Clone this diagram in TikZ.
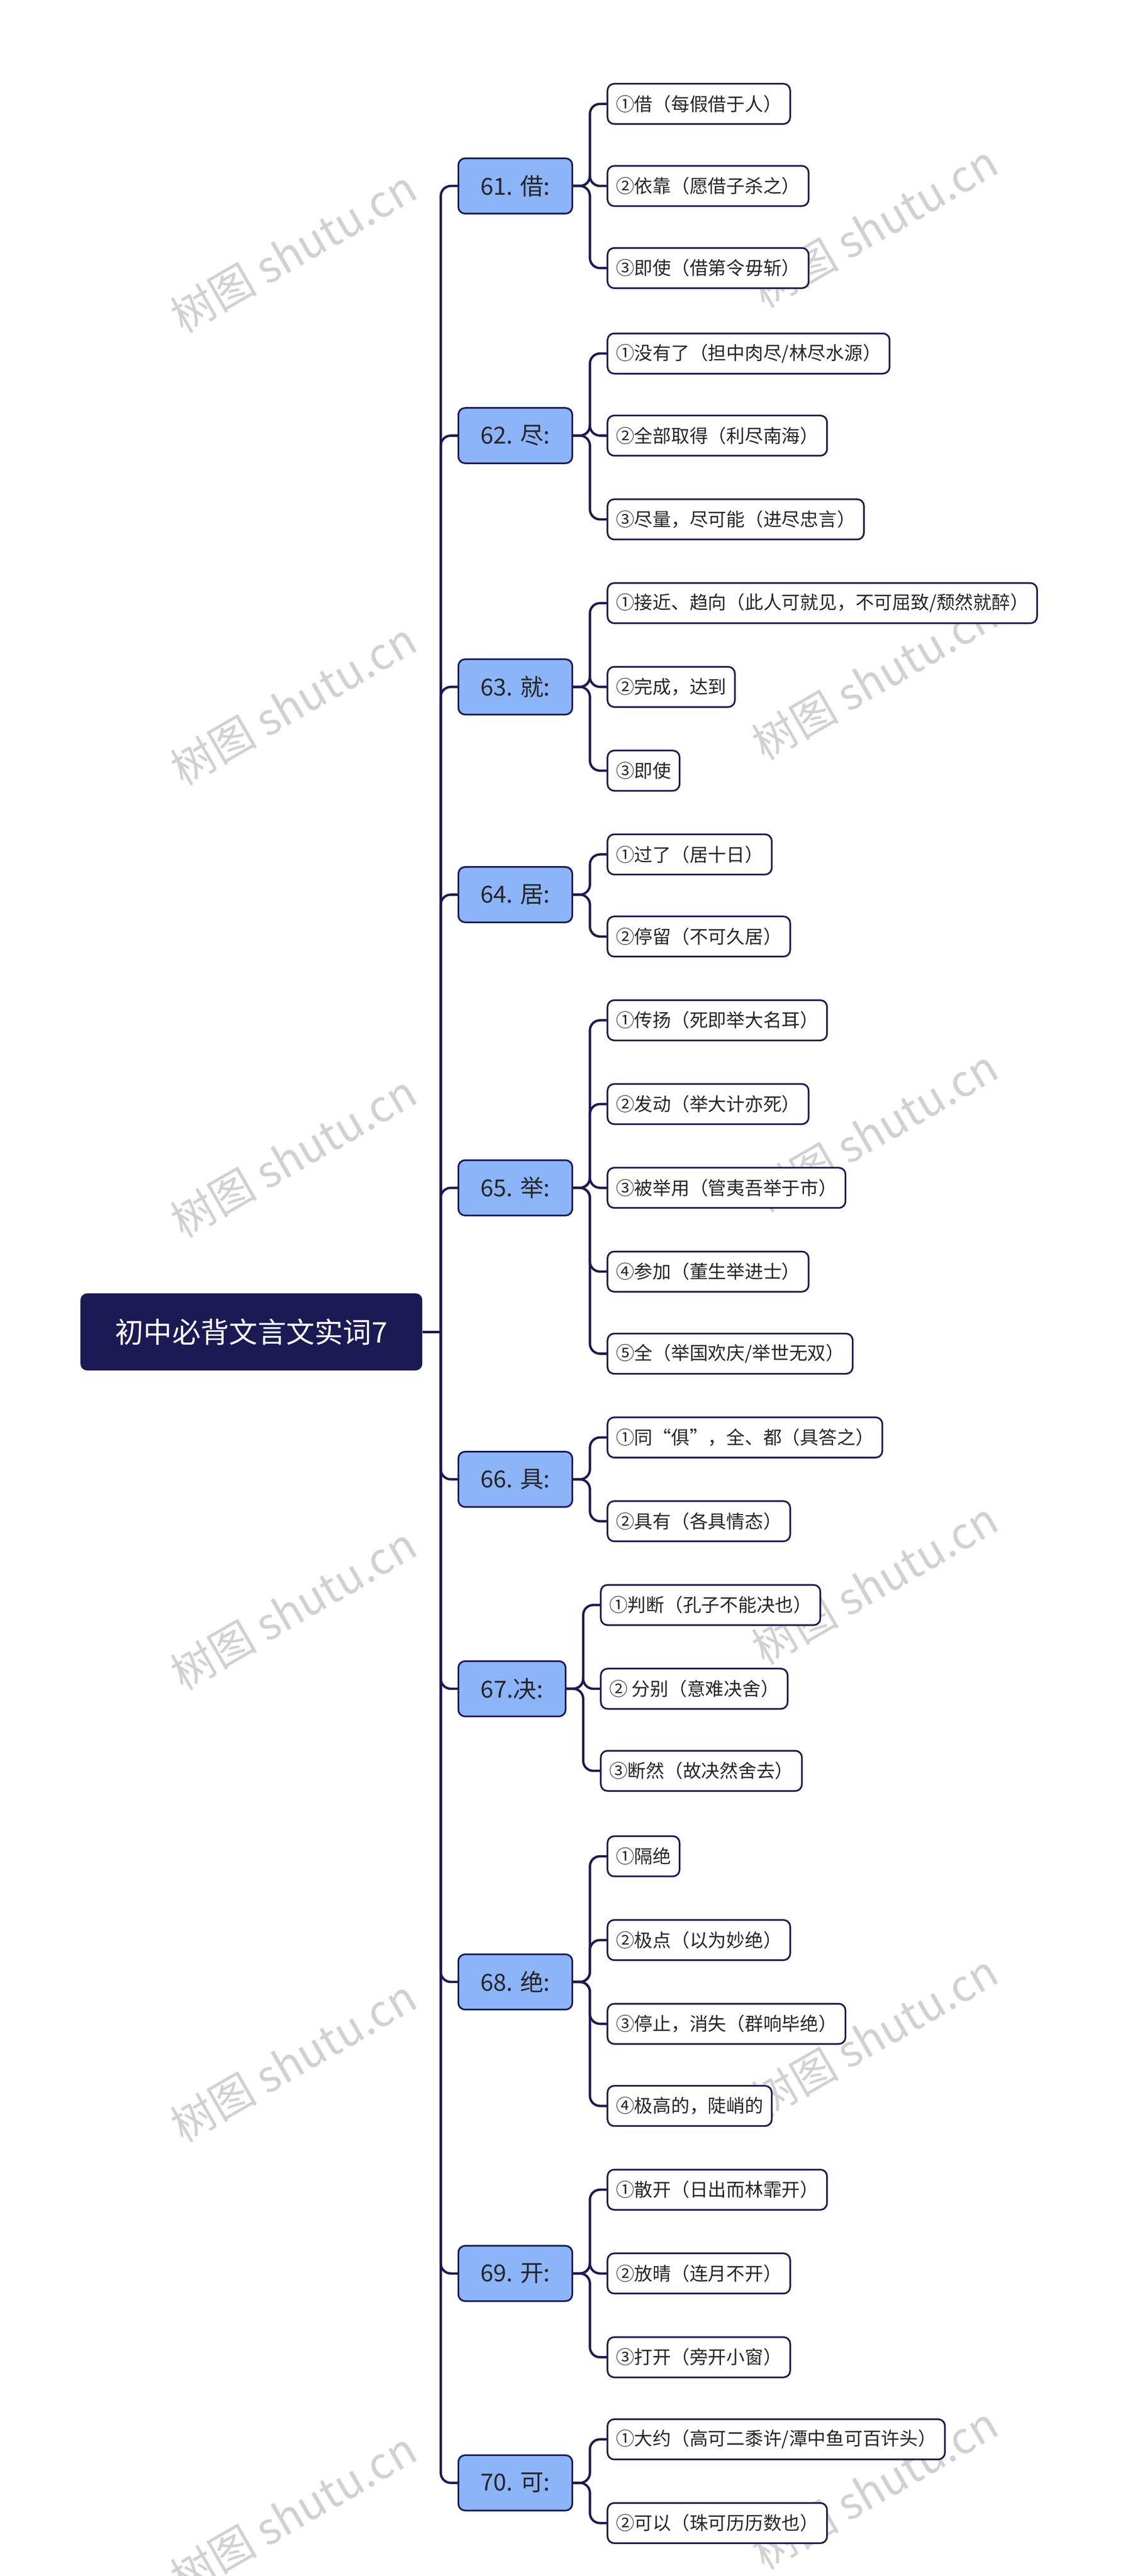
\documentclass[tikz,border=0pt]{standalone}
\usepackage{fontspec}
\setmainfont{Noto Sans CJK SC}
\begin{document}
\begin{tikzpicture}[x=1pt,y=-1pt,
  line/.style={draw=navy,line width=1.4pt,rounded corners=6pt},
  rootbox/.style={fill=navy,rounded corners=4pt,text=white,font=\fontsize{17}{20}\selectfont,minimum height=46pt,minimum width=204pt,inner sep=0},
  l1box/.style={fill=lblue,draw=navy,line width=1pt,rounded corners=4pt,font=\fontsize{14}{16}\selectfont,text=black!85,minimum height=33pt,inner sep=0,anchor=west},
  leaf/.style={fill=white,draw=navy,line width=1pt,rounded corners=4pt,font=\fontsize{11}{13}\selectfont,text=black!85,minimum height=24pt,inner xsep=5pt,inner ysep=0,anchor=west},
  wm/.style={text=black!18,font=\fontsize{26}{28}\selectfont,rotate=30}]
\definecolor{navy}{HTML}{1B1A55}
\definecolor{lblue}{HTML}{8CB4F8}
\useasboundingbox (0,0) rectangle (680,1537.6);
\foreach \y in {150,420,690,960,1230,1500} {\node[wm] (wl\y) at (175,\y) {树图 shutu.cn};}
\foreach \y in {135,405,675,945,1215,1485} {\node[wm] (wr\y) at (522,\y) {树图 shutu.cn};}
\node[rootbox] (root) at (150,795) {初中必背文言文实词7};
\coordinate (tr) at (263,795);
\draw[line] (root.east) -- (tr);
\newcommand\lone[4]{% name, y, text, width
  \node[l1box,minimum width=#4pt] (#1) at (273,#2) {#3};
  \draw[line] (tr) |- (#1.west);}
\newcommand\leafn[4]{% parent, name, y, text
  \node[leaf] (#2) at (362,#3) {#4};
  \draw[line] (#1.east) -- ++(10,0) |- (#2.west);}
\lone{a}{111}{61. 借:}{68}
\leafn{a}{a1}{62}{①借（每假借于人）}
\leafn{a}{a2}{111}{②依靠（愿借子杀之）}
\leafn{a}{a3}{160}{③即使（借第令毋斩）}
\lone{b}{260}{62. 尽:}{68}
\leafn{b}{b1}{211}{①没有了（担中肉尽/林尽水源）}
\leafn{b}{b2}{260}{②全部取得（利尽南海）}
\leafn{b}{b3}{310}{③尽量，尽可能（进尽忠言）}
\lone{c}{410}{63. 就:}{68}
\leafn{c}{c1}{360}{①接近、趋向（此人可就见，不可屈致/颓然就醉）}
\leafn{c}{c2}{410}{②完成，达到}
\leafn{c}{c3}{460}{③即使}
\lone{d}{534}{64. 居:}{68}
\leafn{d}{d1}{510}{①过了（居十日）}
\leafn{d}{d2}{559}{②停留（不可久居）}
\lone{e}{709}{65. 举:}{68}
\leafn{e}{e1}{609}{①传扬（死即举大名耳）}
\leafn{e}{e2}{659}{②发动（举大计亦死）}
\leafn{e}{e3}{709}{③被举用（管夷吾举于市）}
\leafn{e}{e4}{759}{④参加（董生举进士）}
\leafn{e}{e5}{808}{⑤全（举国欢庆/举世无双）}
\lone{f}{883}{66. 具:}{68}
\leafn{f}{f1}{858}{①同“俱”，全、都（具答之）}
\leafn{f}{f2}{908}{②具有（各具情态）}
\node[l1box,minimum width=64pt] (g) at (273,1008) {67.决:};
\draw[line] (tr) |- (g.west);
\foreach \n/\y/\t in {g1/958/{①判断（孔子不能决也）},g2/1008/{② 分别（意难决舍）},g3/1057/{③断然（故决然舍去）}}{
  \node[leaf] (\n) at (358,\y) {\t};
  \draw[line] (g.east) -- ++(10,0) |- (\n.west);}
\lone{h}{1183}{68. 绝:}{68}
\leafn{h}{h1}{1108}{①隔绝}
\leafn{h}{h2}{1158}{②极点（以为妙绝）}
\leafn{h}{h3}{1208}{③停止，消失（群响毕绝）}
\leafn{h}{h4}{1257}{④极高的，陡峭的}
\lone{i}{1357}{69. 开:}{68}
\leafn{i}{i1}{1307}{①散开（日出而林霏开）}
\leafn{i}{i2}{1357}{②放晴（连月不开）}
\leafn{i}{i3}{1407}{③打开（旁开小窗）}
\lone{j}{1482}{70. 可:}{68}
\leafn{j}{j1}{1456}{①大约（高可二黍许/潭中鱼可百许头）}
\leafn{j}{j2}{1506}{②可以（珠可历历数也）}
\end{tikzpicture}
\end{document}
